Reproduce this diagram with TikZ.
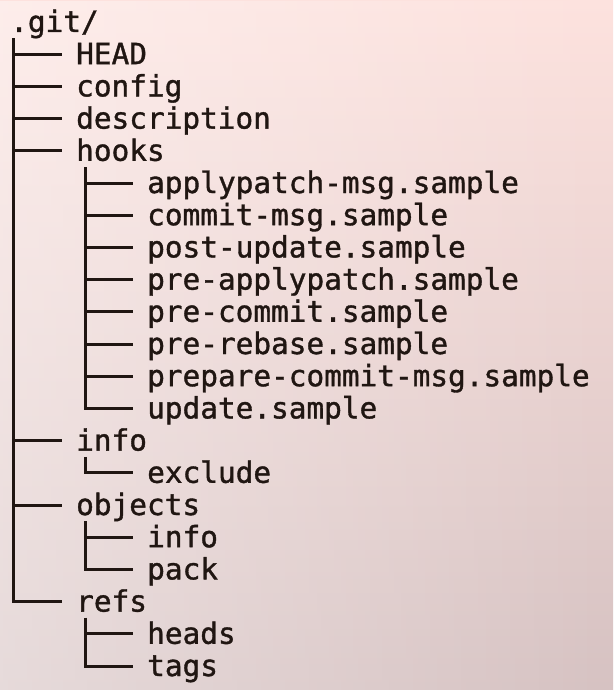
\documentclass[tikz,border=0pt]{standalone}
\usepackage{fontspec}
\setmonofont[FakeBold=1.2]{DejaVu Sans Mono}
\usetikzlibrary{fadings}
\definecolor{ink}{RGB}{32,22,18}
\definecolor{bgtop}{RGB}{253,226,222}
\definecolor{bgbot}{RGB}{214,194,194}
\tikzfading[name=fadeleft, left color=transparent!0, right color=transparent!100]
\tikzset{
  entry/.style={anchor=west, inner xsep=14pt, inner ysep=0pt, text height=26pt, text depth=6pt,
    font=\ttfamily\fontsize{29.4}{32}\selectfont, text=ink},
  branch/.style={draw=ink, line width=3pt, line join=miter}
}
\begin{document}
\begin{tikzpicture}[x=1pt, y=-1pt]
  \useasboundingbox (0,0) rectangle (613,690);
  \shade[top color=bgtop, bottom color=bgbot] (0,0) rectangle (613,690);
  \fill[white, opacity=0.4, path fading=fadeleft] (0,0) rectangle (613,690);
  % root
  \node[entry] (git) at (-4,22) {.git/};
  % first level
  \foreach \n/\r/\t in {head/1/HEAD, config/2/config, description/3/description, hooks/4/hooks,
      info/13/info, objects/15/objects, refs/18/refs}
    \node[entry] (\n) at (62,22+32.2*\r) {\t};
  % second level
  \foreach \n/\r/\t in {applypatch/5/applypatch-msg.sample, commitmsg/6/commit-msg.sample,
      postupdate/7/post-update.sample, preapplypatch/8/pre-applypatch.sample,
      precommit/9/pre-commit.sample, prerebase/10/pre-rebase.sample,
      preparemsg/11/prepare-commit-msg.sample, update/12/update.sample,
      exclude/14/exclude, objinfo/16/info, pack/17/pack, heads/19/heads, tags/20/tags}
    \node[entry] (\n) at (133,22+32.2*\r) {\t};
  % tree lines
  \foreach \n in {head,config,description,hooks,info,objects,refs}
    \draw[branch] ([xshift=17pt]git.south west) |- (\n.west);
  \foreach \n in {applypatch,commitmsg,postupdate,preapplypatch,precommit,prerebase,preparemsg,update}
    \draw[branch] ([xshift=23pt]hooks.south west) |- (\n.west);
  \draw[branch] ([xshift=23pt]info.south west) |- (exclude.west);
  \foreach \n in {objinfo,pack}
    \draw[branch] ([xshift=23pt]objects.south west) |- (\n.west);
  \foreach \n in {heads,tags}
    \draw[branch] ([xshift=23pt]refs.south west) |- (\n.west);
\end{tikzpicture}
\end{document}
